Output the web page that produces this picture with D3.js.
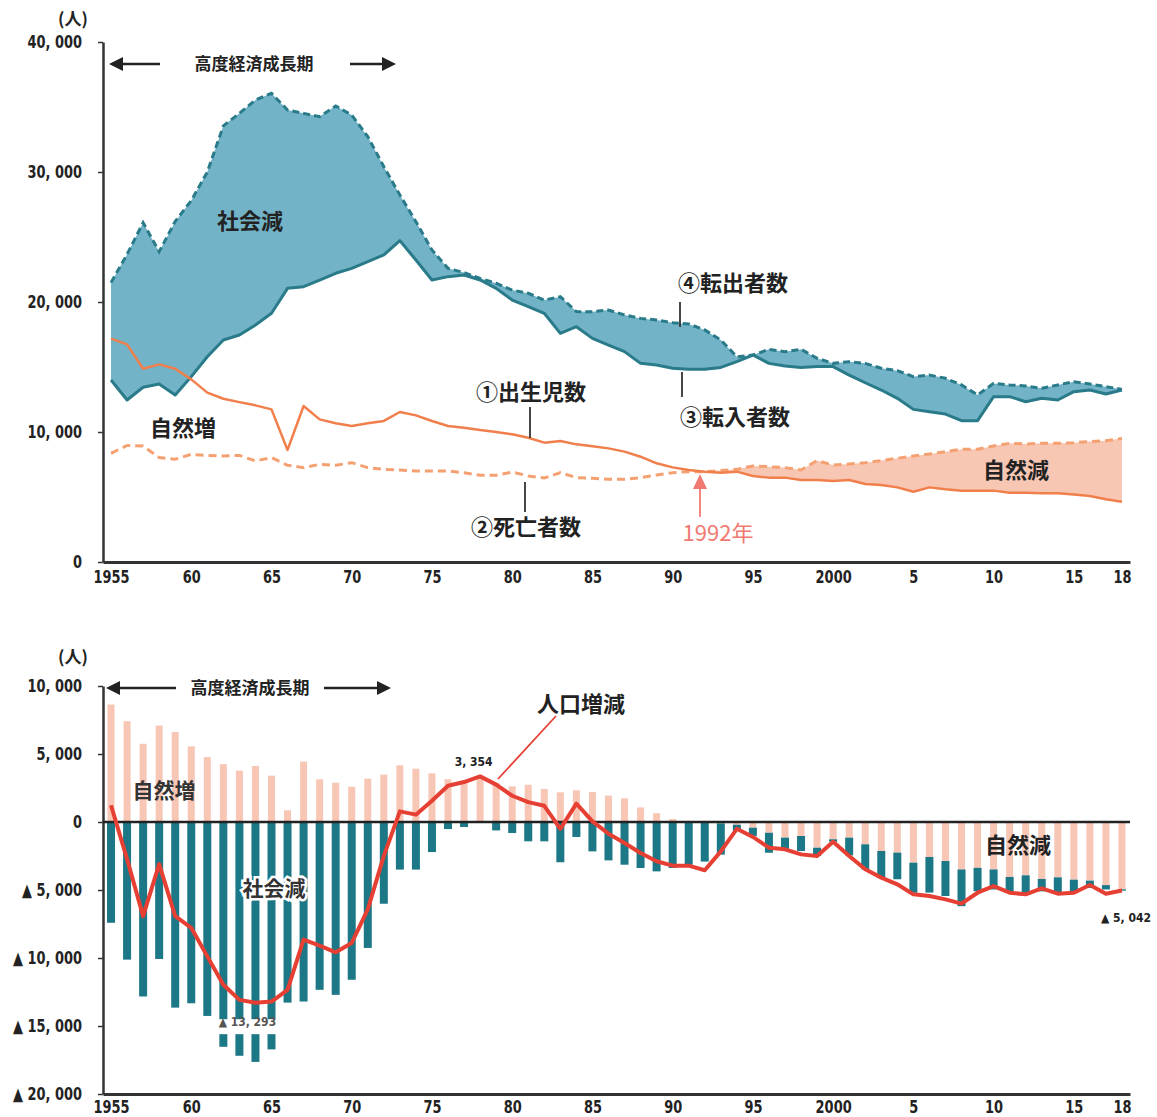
<!DOCTYPE html>
<html>
<head>
<meta charset="utf-8">
<script src="https://cdn.jsdelivr.net/npm/d3@7"></script>
<style>
  body { margin: 0; background: #fff; }
  .num { font-family: "Liberation Sans Narrow", "Arial Narrow", "DejaVu Sans Condensed", sans-serif; font-weight: bold; fill: #222; }
  .narrow { transform-box: fill-box; transform: scaleX(0.8); }
  .jp { font-family: "Noto Sans CJK JP", sans-serif; font-weight: bold; fill: #222; }
</style>
</head>
<body>
<svg id="chart" width="1157" height="1117"></svg>
<script>
// ---- data (people per year) ----
var years = [1955,1956,1957,1958,1959,1960,1961,1962,1963,1964,1965,1966,1967,1968,1969,1970,1971,1972,1973,1974,
  1975,1976,1977,1978,1979,1980,1981,1982,1983,1984,1985,1986,1987,1988,1989,1990,1991,1992,1993,1994,
  1995,1996,1997,1998,1999,2000,2001,2002,2003,2004,2005,2006,2007,2008,2009,2010,2011,2012,2013,2014,
  2015,2016,2017,2018];

// (1) births
var births = [17180,16740,14870,15200,14870,14050,13030,12560,12300,12050,11740,8620,12000,10970,10670,10460,10670,10850,11540,11280,
  10850,10460,10330,10150,10000,9820,9560,9180,9310,9050,8900,8740,8490,8100,7590,7280,7080,6950,6870,6950,
  6610,6490,6490,6310,6310,6230,6310,6000,5920,5740,5410,5740,5590,5490,5490,5490,5330,5330,5280,5280,
  5200,5080,4820,4640];
// (2) deaths
var deaths = [8360,8970,8920,8030,7900,8280,8200,8150,8200,7770,8030,7440,7260,7510,7440,7640,7260,7130,7080,7000,
  7000,7000,6870,6670,6670,6920,6620,6460,6870,6490,6440,6360,6360,6490,6690,6870,6950,6950,7030,7130,
  7390,7330,7260,7080,7800,7460,7540,7640,7800,7980,8160,8310,8490,8670,8670,8920,9130,9080,9130,9130,
  9180,9260,9330,9510];
// (3) in-migrants
var inflow = [14000,12460,13440,13690,12850,14260,15790,17080,17460,18230,19130,21050,21180,21690,22210,22590,23100,23620,24720,23230,
  21690,21950,22080,21690,21050,20150,19640,19130,17590,18100,17200,16690,16180,15280,15150,14900,14820,14820,14970,15410,
  15920,15280,15080,14970,15030,15030,14380,13790,13230,12590,11740,11560,11380,10870,10870,12720,12720,12330,12590,12460,
  13100,13230,12920,13230];
// (4) out-migrants
var outflow = [21490,23670,26100,23870,26200,27800,30000,33550,34510,35540,36050,34770,34510,34260,35080,34380,32720,30410,28230,26180,
  24000,22590,22260,21820,21440,20920,20670,20150,20410,19260,19250,19380,19000,18740,18620,18410,18310,17850,17080,15790,
  15920,16360,16180,16360,15670,15280,15410,15280,14900,14720,14260,14380,14130,13620,12850,13740,13620,13540,13360,13620,
  13870,13690,13490,13280];

// lower chart: natural change, social change, total change
var natural = [8640,7410,5750,7090,6620,5560,4770,4250,3780,4120,3410,860,4440,3140,2890,2590,3190,3480,4170,3920,
  3580,3140,2940,3260,2870,2620,2740,2430,2180,2330,2200,1940,1740,1070,650,220,70,-20,-100,-200,
  -420,-790,-1150,-1030,-1890,-1270,-1150,-1640,-2130,-2250,-2990,-2570,-2870,-3490,-3370,-3490,-4040,-3920,-4190,-4070,
  -4240,-4310,-4640,-4950];
var social = [-7410,-10120,-12830,-10070,-13650,-13330,-14260,-16530,-17190,-17640,-16720,-13280,-13200,-12340,-12710,-11600,-9260,-6010,-3500,-3500,
  -2210,-520,-370,0,-620,-810,-1420,-1420,-2960,-1100,-2160,-2820,-3140,-3380,-3630,-3380,-3140,-2890,-2300,-450,
  -600,-1470,-860,-1100,-610,-180,-1300,-1840,-1960,-1960,-2210,-2620,-2570,-2700,-1720,-1470,-1050,-1300,-910,-1150,
  -860,-540,-320,-100];
var total = [1230,-2730,-6920,-3100,-6920,-7780,-9880,-11970,-13080,-13293,-13200,-12340,-8650,-9090,-9580,-8890,-6430,-2490,780,540,
  1560,2670,2940,3354,2750,1930,1460,1190,-500,1350,50,-860,-1540,-2280,-2890,-3210,-3210,-3550,-2160,-500,
  -1100,-1890,-2010,-2380,-2500,-1450,-2500,-3480,-4090,-4580,-5320,-5440,-5690,-6000,-5200,-4710,-5200,-5320,-4880,-5270,
  -5200,-4630,-5270,-5042];

var xTickYears = [1955,1960,1965,1970,1975,1980,1985,1990,1995,2000,2005,2010,2015,2018];
var xTickLabels = ["1955","60","65","70","75","80","85","90","95","2000","5","10","15","18"];
var topTicks = [0,10000,20000,30000,40000];
var topTickLabels = ["0","10, 000","20, 000","30, 000","40, 000"];
var botTicks = [10000,5000,0,-5000,-10000,-15000,-20000];
var botTickLabels = ["10, 000","5, 000","0","▲ 5, 000","▲ 10, 000","▲ 15, 000","▲ 20, 000"];

// ---- colours ----
var teal = "#2a7b8a", tealFill = "#72b3c8", tealBar = "#1c7886";
var orange = "#f07f4c", orangeDash = "#f5a071", pinkFill = "#f8c7b4", pinkBar = "#f7c6b5";
var red = "#e63f33", annoRed = "#f07a72", ink = "#222";

var rows = years.map(function (y, i) {
  return {year: y, b: births[i], d: deaths[i], inn: inflow[i], out: outflow[i],
          nat: natural[i], soc: social[i], tot: total[i]};
});

var svg = d3.select("#chart");
var x = d3.scaleLinear().domain([1954.5, 2018.5]).range([103, 1130]);

function styleYAxis(ax) {
  ax.select(".domain").attr("stroke", "#333").attr("stroke-width", 2.5);
  ax.selectAll(".tick line").attr("stroke", "#333").attr("stroke-width", 1.5);
  ax.selectAll("text").attr("class", "num narrow").style("font-size", "18px")
    .style("transform-origin", "100% 50%");
}
function styleXAxis(ax) {
  ax.select(".domain").attr("stroke", "#333").attr("stroke-width", 3);
  ax.selectAll("text").attr("class", "num narrow").style("font-size", "18px")
    .style("transform-origin", "50% 50%");
}

// =================== upper chart ===================
var yT = d3.scaleLinear().domain([0, 40000]).range([562, 42]);
var topG = svg.append("g");

// social decrease band (between in and out)
topG.append("path").datum(rows)
  .attr("fill", tealFill)
  .attr("d", d3.area().x(function (d) { return x(d.year); })
    .y0(function (d) { return yT(d.inn); }).y1(function (d) { return yT(d.out); }));

// natural decrease band from 1992
topG.append("path").datum(rows.filter(function (d) { return d.year >= 1992; }))
  .attr("fill", pinkFill)
  .attr("d", d3.area().x(function (d) { return x(d.year); })
    .y0(function (d) { return yT(d.b); }).y1(function (d) { return yT(d.d); }));

var lineOf = function (key, scale) {
  return d3.line().x(function (d) { return x(d.year); }).y(function (d) { return scale(d[key]); });
};

topG.append("path").datum(rows).attr("fill", "none").attr("stroke", teal)
  .attr("stroke-width", 3).attr("stroke-linejoin", "round").attr("d", lineOf("inn", yT));
topG.append("path").datum(rows).attr("fill", "none").attr("stroke", teal)
  .attr("stroke-width", 3).attr("stroke-dasharray", "7,4").attr("d", lineOf("out", yT));
topG.append("path").datum(rows).attr("fill", "none").attr("stroke", orangeDash)
  .attr("stroke-width", 3).attr("stroke-dasharray", "8,5").attr("d", lineOf("d", yT));
topG.append("path").datum(rows).attr("fill", "none").attr("stroke", orange)
  .attr("stroke-width", 2.5).attr("stroke-linejoin", "round").attr("d", lineOf("b", yT));

// axes
var yAxT = topG.append("g").attr("transform", "translate(103,0)")
  .call(d3.axisLeft(yT).tickValues(topTicks).tickSize(5).tickSizeOuter(0).tickPadding(16)
    .tickFormat(function (d, i) { return topTickLabels[i]; }));
styleYAxis(yAxT);

var xAxT = topG.append("g").attr("transform", "translate(0,562)")
  .call(d3.axisBottom(x).tickValues(xTickYears).tickSize(0).tickSizeOuter(0).tickPadding(8)
    .tickFormat(function (d, i) { return xTickLabels[i]; }));
styleXAxis(xAxT);

topG.append("text").attr("class", "jp").attr("x", 73).attr("y", 25).attr("text-anchor", "middle")
  .style("font-size", "17px").text("(人)");

// era arrow
function eraArrow(g, y0, x1, x2, x3, x4, tx) {
  g.append("line").attr("x1", x1 + 12).attr("x2", x2).attr("y1", y0).attr("y2", y0)
    .attr("stroke", ink).attr("stroke-width", 2.5);
  g.append("line").attr("x1", x3).attr("x2", x4 - 12).attr("y1", y0).attr("y2", y0)
    .attr("stroke", ink).attr("stroke-width", 2.5);
  g.append("path").attr("fill", ink)
    .attr("d", "M" + x1 + "," + y0 + "l14,-7v14z");
  g.append("path").attr("fill", ink)
    .attr("d", "M" + x4 + "," + y0 + "l-14,-7v14z");
  g.append("text").attr("class", "jp").attr("x", tx).attr("y", y0 + 6).attr("text-anchor", "middle")
    .style("font-size", "17px").text("高度経済成長期");
}
eraArrow(topG, 64, 109, 160, 350, 396, 254);

function label(g, txt, cx, cy, size, color, weight) {
  return g.append("text").attr("class", "jp").attr("x", cx).attr("y", cy).attr("dy", "0.36em")
    .attr("text-anchor", "middle").style("font-size", size + "px")
    .style("fill", color || ink).style("font-weight", weight || "bold").text(txt);
}
function leader(g, x0, y0, x1, y1, color) {
  g.append("line").attr("x1", x0).attr("y1", y0).attr("x2", x1).attr("y2", y1)
    .attr("stroke", color || "#333").attr("stroke-width", 1.8);
}

label(topG, "社会減", 250, 221, 22);
label(topG, "自然増", 183, 428, 22);
label(topG, "自然減", 1016, 470, 22);
label(topG, "①出生児数", 531, 392, 22);
leader(topG, 530, 407, 530, 438);
label(topG, "②死亡者数", 526, 527, 22);
leader(topG, 525, 482, 525, 512);
label(topG, "④転出者数", 733, 283, 22);
leader(topG, 680, 302, 680, 327);
label(topG, "③転入者数", 735, 417, 22);
leader(topG, 682, 372, 682, 397);
label(topG, "1992年", 718, 533, 22, annoRed, "normal");
leader(topG, 700, 517, 700, 486, annoRed);
topG.append("path").attr("fill", annoRed).attr("d", "M700,474l-7,15h14z");

// =================== lower chart ===================
var yB = d3.scaleLinear().domain([-20000, 10000]).range([1094, 686]);
var botG = svg.append("g");

// natural change bars
botG.selectAll("rect.nat").data(rows).enter().append("rect").attr("class", "nat")
  .attr("x", function (d) { return x(d.year) - 3.5; }).attr("width", 7)
  .attr("y", function (d) { return yB(Math.max(0, d.nat)); })
  .attr("height", function (d) { return Math.abs(yB(d.nat) - yB(0)); })
  .attr("fill", pinkBar);

// social change bars (stacked below natural decrease once both are negative)
botG.selectAll("rect.soc").data(rows).enter().append("rect").attr("class", "soc")
  .attr("x", function (d) { return x(d.year) - 4; }).attr("width", 8)
  .attr("y", function (d) {
    var base = (d.nat < 0 && d.soc < 0) ? d.nat : 0;
    return yB(Math.max(base, base + d.soc));
  })
  .attr("height", function (d) { return Math.abs(yB(d.soc) - yB(0)); })
  .attr("fill", tealBar);

var yAxB = botG.append("g").attr("transform", "translate(103,0)")
  .call(d3.axisLeft(yB).tickValues(botTicks).tickSize(5).tickSizeOuter(0).tickPadding(16)
    .tickFormat(function (d, i) { return botTickLabels[i]; }));
styleYAxis(yAxB);

var xAxB = botG.append("g").attr("transform", "translate(0,1094)")
  .call(d3.axisBottom(x).tickValues(xTickYears).tickSize(0).tickSizeOuter(0).tickPadding(6)
    .tickFormat(function (d, i) { return xTickLabels[i]; }));
styleXAxis(xAxB);

// zero line
botG.append("line").attr("x1", x(1954.5)).attr("x2", x(2018.5))
  .attr("y1", yB(0)).attr("y2", yB(0)).attr("stroke", "#222").attr("stroke-width", 2.5);

// total change line
botG.append("path").datum(rows).attr("fill", "none").attr("stroke", red)
  .attr("stroke-width", 4).attr("stroke-linejoin", "round").attr("d", lineOf("tot", yB));

botG.append("text").attr("class", "jp").attr("x", 73).attr("y", 663).attr("text-anchor", "middle")
  .style("font-size", "17px").text("(人)");
eraArrow(botG, 688, 106, 176, 324, 391, 250);

label(botG, "人口増減", 581, 704, 22);
leader(botG, 556, 716, 498, 779, red);
label(botG, "自然増", 164, 790, 21, "#333");
label(botG, "社会減", 274, 888, 21, "#333")
  .style("stroke", "#fff").style("stroke-width", 5).style("paint-order", "stroke");
label(botG, "自然減", 1018, 845, 22);

function small(g, txt, cx, cy, color) {
  return g.append("text").attr("class", "num").attr("x", cx).attr("y", cy).attr("dy", "0.36em")
    .attr("text-anchor", "middle").style("font-size", "12px").style("fill", color || ink).text(txt);
}
small(botG, "3, 354", x(1977.6), 762);
// minimum label sits on a white gap cut through the bars
botG.append("rect").attr("x", x(1961.6)).attr("y", yB(-14500)).attr("width", x(1965.6) - x(1961.6))
  .attr("height", yB(-15600) - yB(-14500)).attr("fill", "#fff");
small(botG, "▲ 13, 293", x(1963.5), 1022, "#555");
small(botG, "▲ 5, 042", 1126, 918);
</script>
</body>
</html>
